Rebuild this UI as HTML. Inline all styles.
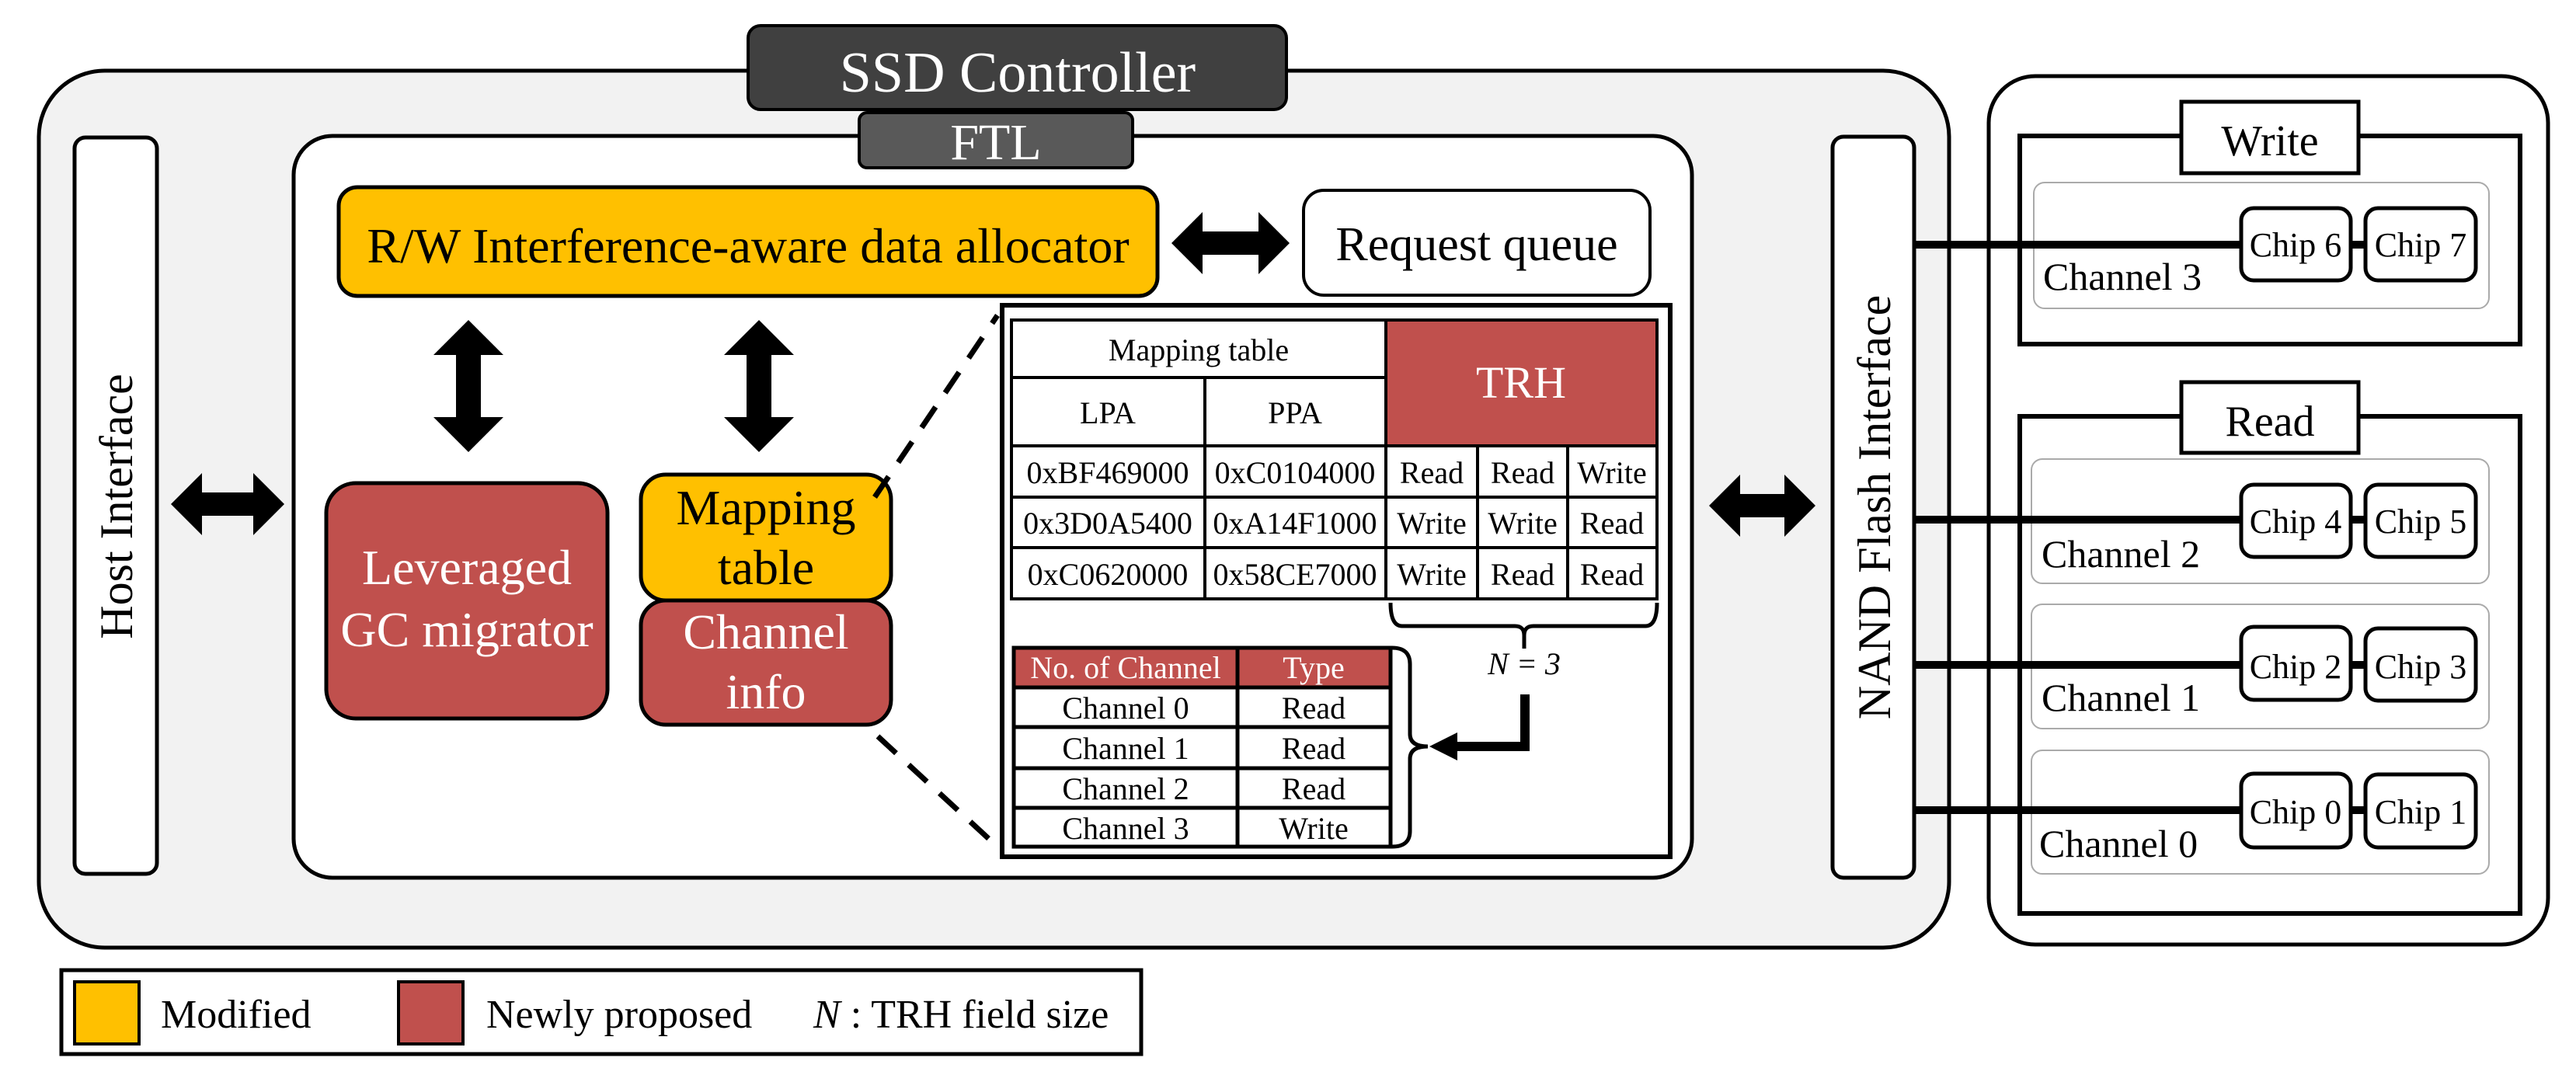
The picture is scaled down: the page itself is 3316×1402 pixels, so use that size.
<!DOCTYPE html>
<html><head><meta charset="utf-8"><style>
html,body{margin:0;padding:0;background:#fff;}
svg{display:block;font-family:"Liberation Serif","Times New Roman",serif;}
svg text{font-family:"Liberation Serif","Times New Roman",serif;}
</style></head><body>
<svg width="3316" height="1402" viewBox="0 0 3316 1402" xmlns="http://www.w3.org/2000/svg" font-family="Liberation Serif, serif">
<!-- SSD outer -->
<rect x="50" y="91" width="2459" height="1129" rx="85" fill="#f2f2f2" stroke="#000" stroke-width="5"/>
<rect x="963" y="33" width="693" height="108" rx="16" fill="#404040" stroke="#000" stroke-width="4"/>
<text x="1310" y="118" font-size="74" fill="#fff" text-anchor="middle">SSD Controller</text>
<!-- FTL -->
<rect x="378" y="175" width="1800" height="955" rx="50" fill="#fff" stroke="#000" stroke-width="5"/>
<rect x="1106" y="145" width="352" height="71" rx="10" fill="#595959" stroke="#000" stroke-width="4"/>
<text x="1282" y="205" font-size="66" fill="#fff" text-anchor="middle">FTL</text>
<!-- Host Interface -->
<rect x="96" y="177" width="106" height="948" rx="14" fill="#fff" stroke="#000" stroke-width="5"/>
<text transform="translate(170,652) rotate(-90)" font-size="60" text-anchor="middle">Host Interface</text>
<polygon points="220,649 260,609 260,634 326,634 326,609 366,649 326,689 326,664 260,664 260,689" fill="#000"/>
<!-- allocator -->
<rect x="436" y="241" width="1054" height="140" rx="24" fill="#FFC000" stroke="#000" stroke-width="5"/>
<text x="963" y="338" font-size="64" text-anchor="middle">R/W Interference-aware data allocator</text>
<polygon points="1508,313 1548,273 1548,298 1620,298 1620,273 1660,313 1620,353 1620,328 1548,328 1548,353" fill="#000"/>
<rect x="1678" y="245" width="446" height="135" rx="26" fill="#fff" stroke="#000" stroke-width="4"/>
<text x="1901" y="335" font-size="62" text-anchor="middle">Request queue</text>
<!-- vertical arrows -->
<polygon points="603,412 648,457 619,457 619,537 648,537 603,582 558,537 587,537 587,457 558,457" fill="#000"/>
<polygon points="977,412 1022,457 993,457 993,537 1022,537 977,582 932,537 961,537 961,457 932,457" fill="#000"/>
<!-- GC -->
<rect x="420" y="622" width="362" height="303" rx="38" fill="#C0504D" stroke="#000" stroke-width="5"/>
<text x="601" y="752" font-size="64" fill="#fff" text-anchor="middle">Leveraged</text>
<text x="601" y="832" font-size="64" fill="#fff" text-anchor="middle">GC migrator</text>
<!-- mapping table / channel info -->
<rect x="825" y="773" width="322" height="160" rx="32" fill="#C0504D" stroke="#000" stroke-width="5"/>
<rect x="825" y="611" width="322" height="162" rx="32" fill="#FFC000" stroke="#000" stroke-width="5"/>
<text x="986" y="675" font-size="64" text-anchor="middle">Mapping</text>
<text x="986" y="752" font-size="64" text-anchor="middle">table</text>
<text x="986" y="835" font-size="64" fill="#fff" text-anchor="middle">Channel</text>
<text x="986" y="912" font-size="64" fill="#fff" text-anchor="middle">info</text>
<!-- dashed -->
<line x1="1126" y1="640" x2="1284" y2="406" stroke="#000" stroke-width="7" stroke-dasharray="32,22"/>
<line x1="1130" y1="948" x2="1286" y2="1092" stroke="#000" stroke-width="7" stroke-dasharray="32,22"/>
<!-- detail box -->
<rect x="1290" y="393" width="860" height="710" fill="#fff" stroke="#000" stroke-width="6"/>
<rect x="1784" y="412" width="349" height="162" fill="#C0504D"/>
<g stroke="#000" stroke-width="4" fill="none">
<rect x="1302" y="412" width="831" height="359"/>
<line x1="1302" y1="486" x2="1784" y2="486"/>
<line x1="1302" y1="574" x2="2133" y2="574"/>
<line x1="1302" y1="640" x2="2133" y2="640"/>
<line x1="1302" y1="705" x2="2133" y2="705"/>
<line x1="1551" y1="486" x2="1551" y2="771"/>
<line x1="1784" y1="412" x2="1784" y2="771"/>
<line x1="1902" y1="574" x2="1902" y2="771"/>
<line x1="2018" y1="574" x2="2018" y2="771"/>
</g>
<g font-size="40" text-anchor="middle">
<text x="1543" y="464">Mapping table</text>
<text x="1426" y="545">LPA</text>
<text x="1667" y="545">PPA</text>
<text x="1958" y="512" font-size="58" fill="#fff">TRH</text>
<text x="1426" y="622">0xBF469000</text><text x="1667" y="622">0xC0104000</text>
<text x="1843" y="622">Read</text><text x="1960" y="622">Read</text><text x="2075" y="622">Write</text>
<text x="1426" y="687">0x3D0A5400</text><text x="1667" y="687">0xA14F1000</text>
<text x="1843" y="687">Write</text><text x="1960" y="687">Write</text><text x="2075" y="687">Read</text>
<text x="1426" y="753">0xC0620000</text><text x="1667" y="753">0x58CE7000</text>
<text x="1843" y="753">Write</text><text x="1960" y="753">Read</text><text x="2075" y="753">Read</text>
</g>
<!-- brace under TRH -->
<path d="M1790,776 Q1790,806 1805,806 L1950,806 Q1962,806 1962,818 L1962,835 M1962,818 Q1962,806 1974,806 L2118,806 Q2133,806 2133,776" stroke="#000" stroke-width="5" fill="none"/>
<text x="1962" y="868" font-size="40" font-style="italic" text-anchor="middle">N = 3</text>
<path d="M1963,894 L1963,961 L1870,961" stroke="#000" stroke-width="12" fill="none"/>
<polygon points="1840,961 1876,943 1876,979" fill="#000"/>
<!-- channel table -->
<rect x="1305" y="834" width="485" height="51" fill="#C0504D"/>
<g stroke="#000" stroke-width="5" fill="none">
<rect x="1305" y="834" width="485" height="256"/>
<line x1="1305" y1="885" x2="1790" y2="885"/>
<line x1="1305" y1="936" x2="1790" y2="936"/>
<line x1="1305" y1="989" x2="1790" y2="989"/>
<line x1="1305" y1="1040" x2="1790" y2="1040"/>
<line x1="1593" y1="834" x2="1593" y2="1090"/>
</g>
<path d="M1792,834 Q1815,834 1815,855 L1815,945 Q1815,961 1838,961 Q1815,961 1815,977 L1815,1070 Q1815,1090 1792,1090" stroke="#000" stroke-width="5" fill="none"/>
<g font-size="40" text-anchor="middle">
<text x="1449" y="873" fill="#fff">No. of Channel</text>
<text x="1691" y="873" fill="#fff">Type</text>
<text x="1449" y="925">Channel 0</text><text x="1691" y="925">Read</text>
<text x="1449" y="977">Channel 1</text><text x="1691" y="977">Read</text>
<text x="1449" y="1029">Channel 2</text><text x="1691" y="1029">Read</text>
<text x="1449" y="1080">Channel 3</text><text x="1691" y="1080">Write</text>
</g>
<!-- NAND interface -->
<rect x="2359" y="176" width="105" height="954" rx="14" fill="#fff" stroke="#000" stroke-width="5"/>
<text transform="translate(2433,653) rotate(-90)" font-size="60" text-anchor="middle">NAND Flash Interface</text>
<polygon points="2200,651 2240,611 2240,636 2297,636 2297,611 2337,651 2297,691 2297,666 2240,666 2240,691" fill="#000"/>
<!-- flash -->
<rect x="2560" y="98" width="720" height="1118" rx="60" fill="#fff" stroke="#000" stroke-width="5"/>
<rect x="2600" y="175" width="644" height="268" fill="none" stroke="#000" stroke-width="6"/>
<rect x="2808" y="131" width="228" height="92" fill="#fff" stroke="#000" stroke-width="5"/>
<text x="2922" y="200" font-size="56" text-anchor="middle">Write</text>
<rect x="2600" y="536" width="644" height="640" fill="none" stroke="#000" stroke-width="6"/>
<rect x="2808" y="492" width="228" height="91" fill="#fff" stroke="#000" stroke-width="5"/>
<text x="2922" y="561" font-size="56" text-anchor="middle">Read</text>
<g fill="none" stroke="#aaa" stroke-width="2">
<rect x="2618" y="235" width="586" height="162" rx="14"/>
<rect x="2615" y="591" width="589" height="160" rx="14"/>
<rect x="2615" y="778" width="589" height="160" rx="14"/>
<rect x="2615" y="966" width="589" height="159" rx="14"/>
</g>
<g stroke="#000" stroke-width="10">
<line x1="2464" y1="315" x2="2885" y2="315"/><line x1="3025" y1="315" x2="3046" y2="315"/>
<line x1="2464" y1="669" x2="2885" y2="669"/><line x1="3025" y1="669" x2="3046" y2="669"/>
<line x1="2464" y1="856" x2="2885" y2="856"/><line x1="3025" y1="856" x2="3046" y2="856"/>
<line x1="2464" y1="1043" x2="2885" y2="1043"/><line x1="3025" y1="1043" x2="3046" y2="1043"/>
</g>
<g fill="#fff" stroke="#000" stroke-width="5">
<rect x="2885" y="268" width="141" height="93" rx="16"/><rect x="3045" y="268" width="142" height="93" rx="16"/>
<rect x="2885" y="624" width="141" height="93" rx="16"/><rect x="3045" y="624" width="142" height="93" rx="16"/>
<rect x="2885" y="807" width="141" height="94" rx="16"/><rect x="3045" y="809" width="142" height="93" rx="16"/>
<rect x="2885" y="996" width="141" height="95" rx="16"/><rect x="3045" y="997" width="142" height="94" rx="16"/>
</g>
<g font-size="44" text-anchor="middle">
<text x="2955" y="330">Chip 6</text><text x="3116" y="330">Chip 7</text>
<text x="2955" y="686">Chip 4</text><text x="3116" y="686">Chip 5</text>
<text x="2955" y="873">Chip 2</text><text x="3116" y="873">Chip 3</text>
<text x="2955" y="1060">Chip 0</text><text x="3116" y="1060">Chip 1</text>
</g>
<g font-size="50">
<text x="2630" y="373">Channel 3</text>
<text x="2628" y="730">Channel 2</text>
<text x="2628" y="915">Channel 1</text>
<text x="2625" y="1103">Channel 0</text>
</g>
<!-- legend -->
<rect x="79" y="1249" width="1390" height="108" fill="#fff" stroke="#000" stroke-width="5"/>
<rect x="96" y="1264" width="83" height="80" fill="#FFC000" stroke="#000" stroke-width="4"/>
<text x="207" y="1323" font-size="52">Modified</text>
<rect x="513" y="1264" width="83" height="80" fill="#C0504D" stroke="#000" stroke-width="4"/>
<text x="626" y="1323" font-size="52">Newly proposed</text>
<text x="1047" y="1323" font-size="52"><tspan font-style="italic">N</tspan> : TRH field size</text>
</svg>
</body></html>
